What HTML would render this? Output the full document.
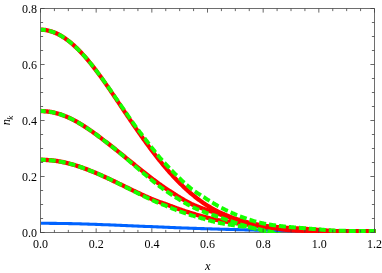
<!DOCTYPE html>
<html><head><meta charset="utf-8"><title>plot</title>
<style>
html,body{margin:0;padding:0;background:#fff;}
svg{display:block;}
</style></head><body>
<svg width="382" height="273" viewBox="0 0 382 273">
<rect width="382" height="273" fill="#fff"/>
<filter id="b" x="0" y="0" width="382" height="273" filterUnits="userSpaceOnUse"><feGaussianBlur stdDeviation="0.4"/></filter>
<clipPath id="c"><rect x="39" y="8" width="337" height="225"/></clipPath>
<g filter="url(#b)">
<rect width="382" height="273" fill="#fff"/>
<path d="M40.0,232.5 H375.0" fill="none" stroke="#6e6e6e" stroke-width="1"/>
<g clip-path="url(#c)"><g transform="translate(0,231.1) scale(1,1.1) translate(0,-231.1)">
<path d="M40.50,224.01 L42.42,224.01 L44.33,224.02 L46.25,224.03 L48.17,224.04 L50.08,224.05 L52.00,224.06 L53.92,224.08 L55.83,224.10 L57.75,224.12 L59.67,224.14 L61.58,224.16 L63.50,224.19 L65.42,224.21 L67.34,224.24 L69.25,224.27 L71.17,224.31 L73.09,224.35 L75.00,224.39 L76.92,224.44 L78.84,224.49 L80.75,224.54 L82.67,224.59 L84.59,224.64 L86.50,224.70 L88.42,224.75 L90.34,224.80 L92.25,224.86 L94.17,224.92 L96.09,224.98 L98.00,225.05 L99.92,225.12 L101.84,225.19 L103.75,225.25 L105.67,225.32 L107.59,225.39 L109.50,225.46 L111.42,225.53 L113.34,225.60 L115.26,225.67 L117.17,225.74 L119.09,225.82 L121.01,225.89 L122.92,225.96 L124.84,226.04 L126.76,226.11 L128.67,226.18 L130.59,226.26 L132.51,226.33 L134.42,226.40 L136.34,226.48 L138.26,226.55 L140.17,226.62 L142.09,226.69 L144.01,226.77 L145.92,226.84 L147.84,226.91 L149.76,226.98 L151.67,227.06 L153.59,227.13 L155.51,227.20 L157.42,227.28 L159.34,227.35 L161.26,227.42 L163.18,227.49 L165.09,227.57 L167.01,227.64 L168.93,227.72 L170.84,227.79 L172.76,227.87 L174.68,227.94 L176.59,228.02 L178.51,228.09 L180.43,228.16 L182.34,228.23 L184.26,228.29 L186.18,228.35 L188.09,228.42 L190.01,228.48 L191.93,228.54 L193.84,228.60 L195.76,228.65 L197.68,228.71 L199.59,228.77 L201.51,228.82 L203.43,228.88 L205.34,228.93 L207.26,228.99 L209.18,229.04 L211.09,229.10 L213.01,229.15 L214.93,229.20 L216.85,229.25 L218.76,229.31 L220.68,229.36 L222.60,229.41 L224.51,229.46 L226.43,229.51 L228.35,229.55 L230.26,229.60 L232.18,229.65 L234.10,229.70 L236.01,229.74 L237.93,229.79 L239.85,229.84 L241.76,229.88 L243.68,229.93 L245.60,229.97 L247.51,230.02 L249.43,230.06 L251.35,230.10 L253.26,230.14 L255.18,230.18 L257.10,230.21 L259.01,230.24 L260.93,230.28 L262.85,230.31 L264.77,230.34 L266.68,230.37 L268.60,230.40 L270.52,230.42 L272.43,230.45 L274.35,230.48 L276.27,230.50 L278.18,230.53 L280.10,230.56 L282.02,230.58 L283.93,230.61 L285.85,230.63 L287.77,230.66 L289.68,230.69 L291.60,230.71 L293.52,230.74 L295.43,230.76 L297.35,230.79 L299.27,230.81 L301.18,230.83 L303.10,230.85 L305.02,230.87 L306.93,230.89 L308.85,230.91 L310.77,230.92 L312.69,230.94 L314.60,230.95 L316.52,230.97 L318.44,230.98 L320.35,231.00 L322.27,231.01 L324.19,231.02 L326.10,231.03 L328.02,231.04 L329.94,231.05 L331.85,231.06 L333.77,231.07 L335.69,231.08 L337.60,231.09 L339.52,231.10 L341.44,231.11 L343.35,231.11 L345.27,231.12 L347.19,231.13 L349.10,231.13 L351.02,231.14 L352.94,231.14 L354.85,231.15 L356.77,231.16 L358.69,231.16 L360.61,231.17 L362.52,231.17 L364.44,231.17 L366.36,231.18 L368.27,231.18 L370.19,231.18 L372.11,231.19 L374.02,231.19 L375.70,231.19" fill="none" stroke="#0064ff" stroke-width="2.8"/>
<path d="M40.50,48.01 L41.46,48.02 L42.42,48.06 L43.38,48.12 L44.33,48.21 L45.29,48.32 L46.25,48.45 L47.21,48.61 L48.17,48.79 L49.13,49.00 L50.08,49.23 L51.04,49.49 L52.00,49.77 L52.96,50.07 L53.92,50.40 L54.88,50.75 L55.83,51.12 L56.79,51.52 L57.75,51.94 L58.71,52.38 L59.67,52.85 L60.63,53.34 L61.58,53.85 L62.54,54.38 L63.50,54.94 L64.46,55.52 L65.42,56.12 L66.38,56.74 L67.34,57.38 L68.29,58.04 L69.25,58.72 L70.21,59.42 L71.17,60.15 L72.13,60.89 L73.09,61.65 L74.04,62.43 L75.00,63.23 L75.96,64.05 L76.92,64.89 L77.88,65.74 L78.84,66.62 L79.79,67.51 L80.75,68.41 L81.71,69.34 L82.67,70.28 L83.63,71.23 L84.59,72.21 L85.54,73.19 L86.50,74.20 L87.46,75.22 L88.42,76.26 L89.38,77.31 L90.34,78.38 L91.30,79.46 L92.25,80.56 L93.21,81.67 L94.17,82.80 L95.13,83.94 L96.09,85.09 L97.05,86.25 L98.00,87.42 L98.96,88.61 L99.92,89.80 L100.88,91.00 L101.84,92.22 L102.80,93.44 L103.75,94.67 L104.71,95.90 L105.67,97.14 L106.63,98.39 L107.59,99.65 L108.55,100.91 L109.50,102.17 L110.46,103.44 L111.42,104.71 L112.38,105.99 L113.34,107.28 L114.30,108.57 L115.26,109.86 L116.21,111.16 L117.17,112.46 L118.13,113.76 L119.09,115.06 L120.05,116.37 L121.01,117.68 L121.96,118.98 L122.92,120.29 L123.88,121.60 L124.84,122.90 L125.80,124.21 L126.76,125.51 L127.71,126.81 L128.67,128.10 L129.63,129.39 L130.59,130.68 L131.55,131.97 L132.51,133.25 L133.46,134.52 L134.42,135.79 L135.38,137.05 L136.34,138.31 L137.30,139.56 L138.26,140.81 L139.22,142.05 L140.17,143.29 L141.13,144.53 L142.09,145.75 L143.05,146.98 L144.01,148.19 L144.97,149.40 L145.92,150.60 L146.88,151.80 L147.84,152.99 L148.80,154.17 L149.76,155.35 L150.72,156.51 L151.67,157.67 L152.63,158.82 L153.59,159.97 L154.55,161.10 L155.51,162.23 L156.47,163.34 L157.42,164.45 L158.38,165.55 L159.34,166.64 L160.30,167.72 L161.26,168.80 L162.22,169.86 L163.18,170.91 L164.13,171.95 L165.09,172.99 L166.05,174.01 L167.01,175.02 L167.97,176.03 L168.93,177.02 L169.88,178.00 L170.84,178.97 L171.80,179.93 L172.76,180.88 L173.72,181.82 L174.68,182.75 L175.63,183.67 L176.59,184.58 L177.55,185.48 L178.51,186.36 L179.47,187.24 L180.43,188.10 L181.38,188.95 L182.34,189.80 L183.30,190.63 L184.26,191.45 L185.22,192.26 L186.18,193.06 L187.14,193.85 L188.09,194.62 L189.05,195.39 L190.01,196.14 L190.97,196.89 L191.93,197.62 L192.89,198.34 L193.84,199.05 L194.80,199.76 L195.76,200.45 L196.72,201.13 L197.68,201.80 L198.64,202.45 L199.59,203.10 L200.55,203.74 L201.51,204.36 L202.47,204.98 L203.43,205.58 L204.39,206.17 L205.34,206.74 L206.30,207.31 L207.26,207.86 L208.22,208.40 L209.18,208.94 L210.14,209.46 L211.09,209.97 L212.05,210.47 L213.01,210.95 L213.97,211.43 L214.93,211.90 L215.89,212.36 L216.85,212.81 L217.80,213.25 L218.76,213.68 L219.72,214.10 L220.68,214.52 L221.64,214.92 L222.60,215.32 L223.55,215.70 L224.51,216.08 L225.47,216.45 L226.43,216.82 L227.39,217.18 L228.35,217.53 L229.30,217.87 L230.26,218.20 L231.22,218.53 L232.18,218.86 L233.14,219.17 L234.10,219.48 L235.05,219.79 L236.01,220.09 L236.97,220.38 L237.93,220.67 L238.89,220.95 L239.85,221.22 L240.81,221.49 L241.76,221.75 L242.72,222.01 L243.68,222.26 L244.64,222.50 L245.60,222.74 L246.56,222.98 L247.51,223.20 L248.47,223.42 L249.43,223.64 L250.39,223.85 L251.35,224.05 L252.31,224.25 L253.26,224.44 L254.22,224.63 L255.18,224.81 L256.14,224.99 L257.10,225.16 L258.06,225.33 L259.01,225.49 L259.97,225.64 L260.93,225.79 L261.89,225.93 L262.85,226.07 L263.81,226.20 L264.77,226.32 L265.72,226.44 L266.68,226.55 L267.64,226.65 L268.60,226.76 L269.56,226.85 L270.52,226.95 L271.47,227.03 L272.43,227.12 L273.39,227.20 L274.35,227.28 L275.31,227.36 L276.27,227.43 L277.22,227.50 L278.18,227.57 L279.14,227.64 L280.10,227.70 L281.06,227.77 L282.02,227.83 L282.97,227.90 L283.93,227.96 L284.89,228.03 L285.85,228.09 L286.81,228.15 L287.77,228.21 L288.73,228.26 L289.68,228.32 L290.64,228.37 L291.60,228.42 L292.56,228.47 L293.52,228.52 L294.48,228.57 L295.43,228.61 L296.39,228.66 L297.35,228.71 L298.31,228.76 L299.27,228.81 L300.23,228.85 L301.18,228.90 L302.14,228.95 L303.10,229.01 L304.06,229.06 L305.02,229.11 L305.98,229.17 L306.93,229.23 L307.89,229.29 L308.85,229.35 L309.81,229.41 L310.77,229.48 L311.73,229.54 L312.69,229.61 L313.64,229.68 L314.60,229.74 L315.56,229.81 L316.52,229.88 L317.48,229.94 L318.44,230.01 L319.39,230.07 L320.35,230.14 L321.31,230.20 L322.27,230.27 L323.23,230.34 L324.19,230.41 L325.14,230.48 L326.10,230.55 L327.06,230.62 L328.02,230.69 L328.98,230.76 L329.94,230.82 L330.89,230.89 L331.85,230.94 L332.81,231.00 L333.77,231.04 L334.73,231.08 L335.69,231.12 L336.65,231.15 L337.60,231.17 L338.56,231.19 L339.52,231.21 L340.48,231.23 L341.44,231.24 L342.40,231.26 L343.35,231.28 L344.31,231.29 L345.27,231.31 L346.23,231.32 L347.19,231.33 L348.15,231.35 L349.10,231.36 L350.06,231.37 L351.02,231.38 L351.98,231.39 L352.94,231.40 L353.90,231.41 L354.85,231.42 L355.81,231.43 L356.77,231.44 L357.73,231.45 L358.69,231.46 L359.65,231.47 L360.61,231.47 L361.56,231.48 L362.52,231.49 L363.48,231.50 L364.44,231.50 L365.40,231.51 L366.36,231.51 L367.31,231.52 L368.27,231.52 L369.23,231.53 L370.19,231.53 L371.15,231.53 L372.11,231.54 L373.06,231.54 L374.02,231.54 L374.98,231.55 L375.70,231.55" fill="none" stroke="#ff0000" stroke-width="4.0"/>
<path d="M40.50,121.98 L41.46,121.98 L42.42,122.01 L43.38,122.04 L44.33,122.09 L45.29,122.15 L46.25,122.23 L47.21,122.32 L48.17,122.43 L49.13,122.55 L50.08,122.68 L51.04,122.83 L52.00,122.99 L52.96,123.17 L53.92,123.36 L54.88,123.56 L55.83,123.78 L56.79,124.01 L57.75,124.25 L58.71,124.51 L59.67,124.77 L60.63,125.06 L61.58,125.35 L62.54,125.66 L63.50,125.98 L64.46,126.32 L65.42,126.67 L66.38,127.03 L67.34,127.40 L68.29,127.78 L69.25,128.18 L70.21,128.59 L71.17,129.01 L72.13,129.44 L73.09,129.88 L74.04,130.34 L75.00,130.80 L75.96,131.28 L76.92,131.76 L77.88,132.26 L78.84,132.77 L79.79,133.29 L80.75,133.82 L81.71,134.36 L82.67,134.90 L83.63,135.45 L84.59,136.01 L85.54,136.57 L86.50,137.15 L87.46,137.72 L88.42,138.31 L89.38,138.90 L90.34,139.50 L91.30,140.10 L92.25,140.71 L93.21,141.33 L94.17,141.95 L95.13,142.58 L96.09,143.22 L97.05,143.86 L98.00,144.50 L98.96,145.16 L99.92,145.81 L100.88,146.48 L101.84,147.14 L102.80,147.81 L103.75,148.48 L104.71,149.15 L105.67,149.82 L106.63,150.49 L107.59,151.16 L108.55,151.83 L109.50,152.51 L110.46,153.19 L111.42,153.87 L112.38,154.55 L113.34,155.23 L114.30,155.92 L115.26,156.61 L116.21,157.30 L117.17,157.99 L118.13,158.69 L119.09,159.39 L120.05,160.09 L121.01,160.80 L121.96,161.50 L122.92,162.21 L123.88,162.92 L124.84,163.62 L125.80,164.33 L126.76,165.04 L127.71,165.74 L128.67,166.45 L129.63,167.16 L130.59,167.86 L131.55,168.57 L132.51,169.27 L133.46,169.97 L134.42,170.67 L135.38,171.38 L136.34,172.08 L137.30,172.78 L138.26,173.47 L139.22,174.17 L140.17,174.86 L141.13,175.56 L142.09,176.25 L143.05,176.94 L144.01,177.63 L144.97,178.32 L145.92,179.00 L146.88,179.68 L147.84,180.36 L148.80,181.04 L149.76,181.72 L150.72,182.39 L151.67,183.06 L152.63,183.72 L153.59,184.38 L154.55,185.04 L155.51,185.69 L156.47,186.34 L157.42,186.98 L158.38,187.62 L159.34,188.25 L160.30,188.88 L161.26,189.50 L162.22,190.12 L163.18,190.73 L164.13,191.33 L165.09,191.93 L166.05,192.51 L167.01,193.09 L167.97,193.66 L168.93,194.23 L169.88,194.79 L170.84,195.35 L171.80,195.90 L172.76,196.46 L173.72,197.01 L174.68,197.57 L175.63,198.12 L176.59,198.68 L177.55,199.23 L178.51,199.77 L179.47,200.31 L180.43,200.85 L181.38,201.38 L182.34,201.90 L183.30,202.42 L184.26,202.93 L185.22,203.43 L186.18,203.92 L187.14,204.40 L188.09,204.87 L189.05,205.33 L190.01,205.78 L190.97,206.21 L191.93,206.64 L192.89,207.04 L193.84,207.44 L194.80,207.82 L195.76,208.19 L196.72,208.55 L197.68,208.90 L198.64,209.25 L199.59,209.58 L200.55,209.91 L201.51,210.24 L202.47,210.55 L203.43,210.87 L204.39,211.18 L205.34,211.48 L206.30,211.79 L207.26,212.09 L208.22,212.39 L209.18,212.68 L210.14,212.96 L211.09,213.21 L212.05,213.45 L213.01,213.69 L213.97,213.95 L214.93,214.23 L215.89,214.54 L216.85,214.85 L217.80,215.16 L218.76,215.47 L219.72,215.77 L220.68,216.08 L221.64,216.38 L222.60,216.67 L223.55,216.97 L224.51,217.26 L225.47,217.56 L226.43,217.85 L227.39,218.14 L228.35,218.42 L229.30,218.71 L230.26,218.99 L231.22,219.27 L232.18,219.55 L233.14,219.83 L234.10,220.11 L235.05,220.38 L236.01,220.65 L236.97,220.92 L237.93,221.19 L238.89,221.45 L239.85,221.71 L240.81,221.97 L241.76,222.22 L242.72,222.47 L243.68,222.71 L244.64,222.95 L245.60,223.18 L246.56,223.40 L247.51,223.62 L248.47,223.83 L249.43,224.04 L250.39,224.25 L251.35,224.45 L252.31,224.64 L253.26,224.83 L254.22,225.01 L255.18,225.19 L256.14,225.37 L257.10,225.54 L258.06,225.70 L259.01,225.87 L259.97,226.02 L260.93,226.18 L261.89,226.33 L262.85,226.47 L263.81,226.61 L264.77,226.75 L265.72,226.89 L266.68,227.02 L267.64,227.15 L268.60,227.27 L269.56,227.39 L270.52,227.51 L271.47,227.63 L272.43,227.74 L273.39,227.86 L274.35,227.98 L275.31,228.09 L276.27,228.21 L277.22,228.32 L278.18,228.43 L279.14,228.54 L280.10,228.64 L281.06,228.75 L282.02,228.85 L282.97,228.94 L283.93,229.04 L284.89,229.13 L285.85,229.22 L286.81,229.30 L287.77,229.38 L288.73,229.46 L289.68,229.54 L290.64,229.61 L291.60,229.68 L292.56,229.75 L293.52,229.81 L294.48,229.87 L295.43,229.92 L296.39,229.98 L297.35,230.03 L298.31,230.08 L299.27,230.12 L300.23,230.17 L301.18,230.21 L302.14,230.25 L303.10,230.28 L304.06,230.32 L305.02,230.36 L305.98,230.39 L306.93,230.43 L307.89,230.46 L308.85,230.50 L309.81,230.54 L310.77,230.57 L311.73,230.61 L312.69,230.65 L313.64,230.69 L314.60,230.72 L315.56,230.76 L316.52,230.80 L317.48,230.83 L318.44,230.87 L319.39,230.90 L320.35,230.94 L321.31,230.97 L322.27,231.00 L323.23,231.03 L324.19,231.06 L325.14,231.09 L326.10,231.12 L327.06,231.15 L328.02,231.17 L328.98,231.20 L329.94,231.22 L330.89,231.24 L331.85,231.25 L332.81,231.27 L333.77,231.28 L334.73,231.30 L335.69,231.30 L336.65,231.31 L337.60,231.32 L338.56,231.33 L339.52,231.34 L340.48,231.35 L341.44,231.35 L342.40,231.36 L343.35,231.37 L344.31,231.37 L345.27,231.38 L346.23,231.38 L347.19,231.39 L348.15,231.40 L349.10,231.40 L350.06,231.41 L351.02,231.41 L351.98,231.42 L352.94,231.42 L353.90,231.42 L354.85,231.43 L355.81,231.43 L356.77,231.44 L357.73,231.44 L358.69,231.44 L359.65,231.45 L360.61,231.45 L361.56,231.45 L362.52,231.46 L363.48,231.46 L364.44,231.46 L365.40,231.46 L366.36,231.47 L367.31,231.47 L368.27,231.47 L369.23,231.47 L370.19,231.48 L371.15,231.48 L372.11,231.48 L373.06,231.48 L374.02,231.48 L374.98,231.48 L375.70,231.48" fill="none" stroke="#ff0000" stroke-width="4.0"/>
<path d="M40.50,166.29 L41.46,166.29 L42.42,166.30 L43.38,166.32 L44.33,166.35 L45.29,166.38 L46.25,166.42 L47.21,166.47 L48.17,166.53 L49.13,166.60 L50.08,166.67 L51.04,166.75 L52.00,166.84 L52.96,166.93 L53.92,167.04 L54.88,167.15 L55.83,167.27 L56.79,167.39 L57.75,167.53 L58.71,167.67 L59.67,167.82 L60.63,167.98 L61.58,168.14 L62.54,168.31 L63.50,168.49 L64.46,168.68 L65.42,168.87 L66.38,169.07 L67.34,169.28 L68.29,169.50 L69.25,169.72 L70.21,169.95 L71.17,170.18 L72.13,170.43 L73.09,170.68 L74.04,170.93 L75.00,171.20 L75.96,171.47 L76.92,171.74 L77.88,172.03 L78.84,172.32 L79.79,172.61 L80.75,172.91 L81.71,173.22 L82.67,173.53 L83.63,173.85 L84.59,174.18 L85.54,174.50 L86.50,174.83 L87.46,175.17 L88.42,175.50 L89.38,175.85 L90.34,176.19 L91.30,176.54 L92.25,176.89 L93.21,177.25 L94.17,177.61 L95.13,177.97 L96.09,178.34 L97.05,178.71 L98.00,179.08 L98.96,179.45 L99.92,179.83 L100.88,180.22 L101.84,180.60 L102.80,180.99 L103.75,181.39 L104.71,181.78 L105.67,182.18 L106.63,182.58 L107.59,182.99 L108.55,183.40 L109.50,183.81 L110.46,184.22 L111.42,184.63 L112.38,185.05 L113.34,185.47 L114.30,185.88 L115.26,186.30 L116.21,186.72 L117.17,187.14 L118.13,187.57 L119.09,187.99 L120.05,188.41 L121.01,188.84 L121.96,189.26 L122.92,189.68 L123.88,190.11 L124.84,190.53 L125.80,190.95 L126.76,191.38 L127.71,191.80 L128.67,192.22 L129.63,192.64 L130.59,193.06 L131.55,193.48 L132.51,193.90 L133.46,194.32 L134.42,194.73 L135.38,195.15 L136.34,195.56 L137.30,195.97 L138.26,196.38 L139.22,196.79 L140.17,197.20 L141.13,197.60 L142.09,198.00 L143.05,198.40 L144.01,198.79 L144.97,199.19 L145.92,199.58 L146.88,199.96 L147.84,200.35 L148.80,200.73 L149.76,201.10 L150.72,201.48 L151.67,201.85 L152.63,202.22 L153.59,202.58 L154.55,202.94 L155.51,203.30 L156.47,203.65 L157.42,204.00 L158.38,204.34 L159.34,204.66 L160.30,204.96 L161.26,205.25 L162.22,205.53 L163.18,205.82 L164.13,206.11 L165.09,206.42 L166.05,206.73 L167.01,207.05 L167.97,207.38 L168.93,207.70 L169.88,208.03 L170.84,208.35 L171.80,208.68 L172.76,209.00 L173.72,209.33 L174.68,209.65 L175.63,209.98 L176.59,210.30 L177.55,210.61 L178.51,210.93 L179.47,211.24 L180.43,211.55 L181.38,211.86 L182.34,212.16 L183.30,212.45 L184.26,212.75 L185.22,213.04 L186.18,213.32 L187.14,213.60 L188.09,213.88 L189.05,214.16 L190.01,214.44 L190.97,214.71 L191.93,214.98 L192.89,215.24 L193.84,215.50 L194.80,215.76 L195.76,216.02 L196.72,216.28 L197.68,216.53 L198.64,216.78 L199.59,217.02 L200.55,217.27 L201.51,217.51 L202.47,217.75 L203.43,217.99 L204.39,218.22 L205.34,218.46 L206.30,218.69 L207.26,218.92 L208.22,219.14 L209.18,219.36 L210.14,219.58 L211.09,219.79 L212.05,220.00 L213.01,220.20 L213.97,220.40 L214.93,220.59 L215.89,220.78 L216.85,220.97 L217.80,221.15 L218.76,221.32 L219.72,221.49 L220.68,221.65 L221.64,221.80 L222.60,221.96 L223.55,222.10 L224.51,222.25 L225.47,222.39 L226.43,222.53 L227.39,222.66 L228.35,222.80 L229.30,222.93 L230.26,223.07 L231.22,223.20 L232.18,223.33 L233.14,223.46 L234.10,223.59 L235.05,223.72 L236.01,223.84 L236.97,223.96 L237.93,224.07 L238.89,224.18 L239.85,224.29 L240.81,224.39 L241.76,224.50 L242.72,224.60 L243.68,224.71 L244.64,224.81 L245.60,224.92 L246.56,225.03 L247.51,225.14 L248.47,225.26 L249.43,225.37 L250.39,225.49 L251.35,225.62 L252.31,225.74 L253.26,225.87 L254.22,226.01 L255.18,226.14 L256.14,226.28 L257.10,226.41 L258.06,226.54 L259.01,226.67 L259.97,226.79 L260.93,226.92 L261.89,227.04 L262.85,227.15 L263.81,227.27 L264.77,227.38 L265.72,227.49 L266.68,227.60 L267.64,227.71 L268.60,227.81 L269.56,227.91 L270.52,228.01 L271.47,228.11 L272.43,228.20 L273.39,228.31 L274.35,228.43 L275.31,228.55 L276.27,228.68 L277.22,228.82 L278.18,228.95 L279.14,229.08 L280.10,229.21 L281.06,229.34 L282.02,229.47 L282.97,229.58 L283.93,229.70 L284.89,229.80 L285.85,229.90 L286.81,229.99 L287.77,230.07 L288.73,230.14 L289.68,230.20 L290.64,230.26 L291.60,230.31 L292.56,230.36 L293.52,230.41 L294.48,230.45 L295.43,230.50 L296.39,230.54 L297.35,230.57 L298.31,230.61 L299.27,230.64 L300.23,230.67 L301.18,230.70 L302.14,230.73 L303.10,230.75 L304.06,230.78 L305.02,230.80 L305.98,230.81 L306.93,230.83 L307.89,230.85 L308.85,230.87 L309.81,230.89 L310.77,230.91 L311.73,230.93 L312.69,230.95 L313.64,230.98 L314.60,231.00 L315.56,231.02 L316.52,231.04 L317.48,231.07 L318.44,231.09 L319.39,231.11 L320.35,231.14 L321.31,231.16 L322.27,231.18 L323.23,231.21 L324.19,231.23 L325.14,231.25 L326.10,231.27 L327.06,231.29 L328.02,231.31 L328.98,231.32 L329.94,231.34 L330.89,231.35 L331.85,231.36 L332.81,231.37 L333.77,231.38 L334.73,231.39 L335.69,231.40 L336.65,231.40 L337.60,231.41 L338.56,231.41 L339.52,231.42 L340.48,231.42 L341.44,231.42 L342.40,231.43 L343.35,231.43 L344.31,231.44 L345.27,231.44 L346.23,231.44 L347.19,231.45 L348.15,231.45 L349.10,231.45 L350.06,231.46 L351.02,231.46 L351.98,231.46 L352.94,231.46 L353.90,231.47 L354.85,231.47 L355.81,231.47 L356.77,231.47 L357.73,231.48 L358.69,231.48 L359.65,231.48 L360.61,231.48 L361.56,231.48 L362.52,231.48 L363.48,231.49 L364.44,231.49 L365.40,231.49 L366.36,231.49 L367.31,231.49 L368.27,231.49 L369.23,231.49 L370.19,231.49 L371.15,231.50 L372.11,231.50 L373.06,231.50 L374.02,231.50 L374.98,231.50 L375.70,231.50" fill="none" stroke="#ff0000" stroke-width="4.0"/>
<path d="M40.50,48.01 L40.74,48.01 L41.46,48.02 L42.18,48.05 L42.90,48.09 L43.61,48.14 L44.33,48.21 L45.05,48.29 L45.77,48.38 L45.78,48.38 M48.74,48.91 L48.89,48.95 L49.60,49.11 L50.32,49.29 L51.04,49.49 L51.76,49.69 L52.48,49.92 L53.20,50.15 L53.92,50.40 L54.64,50.66 L55.36,50.93 L55.43,50.96 M58.19,52.14 L58.23,52.16 L58.95,52.50 L59.67,52.85 L60.39,53.21 L61.11,53.59 L61.82,53.98 L62.54,54.38 L63.26,54.80 L63.98,55.22 L64.38,55.46 M66.91,57.09 L67.10,57.21 L67.81,57.70 L68.53,58.21 L69.25,58.72 L69.97,59.25 L70.69,59.78 L71.41,60.33 L72.13,60.89 L72.58,61.25 M74.91,63.16 L75.00,63.23 L75.72,63.85 L76.44,64.47 L77.16,65.10 L77.88,65.74 L78.60,66.40 L79.32,67.06 L80.03,67.73 L80.16,67.85 M82.32,69.94 L82.43,70.04 L83.15,70.75 L83.87,71.48 L84.59,72.21 L85.31,72.94 L86.02,73.69 L86.74,74.45 L87.07,74.79 M89.01,76.88 L89.14,77.02 L89.86,77.81 L90.58,78.61 L91.30,79.41 L92.01,80.22 L92.73,81.04 L93.42,81.83 M95.29,84.01 L95.37,84.10 L96.09,84.95 L96.81,85.80 L97.52,86.66 L98.24,87.53 L98.96,88.40 L99.64,89.23 M101.53,91.55 L101.60,91.64 L102.32,92.54 L103.04,93.44 L103.75,94.35 L104.47,95.25 L105.19,96.17 L105.89,97.06 M107.75,99.45 L107.83,99.55 L108.55,100.48 L109.27,101.41 L109.98,102.35 L110.70,103.29 L111.42,104.23 L112.04,105.04 M113.87,107.44 L114.06,107.69 L114.78,108.64 L115.49,109.58 L116.21,110.53 L116.93,111.48 L117.65,112.43 L118.13,113.06 M119.95,115.47 L120.05,115.60 L120.77,116.55 L121.48,117.50 L122.20,118.45 L122.92,119.40 L123.64,120.35 L124.20,121.08 M126.02,123.47 L126.04,123.50 L126.76,124.44 L127.47,125.39 L128.19,126.33 L128.91,127.27 L129.63,128.21 L130.25,129.02 M132.07,131.37 L132.27,131.63 L132.99,132.56 L133.70,133.49 L134.42,134.41 L135.14,135.32 L135.86,136.21 L136.34,136.81 M138.22,139.08 L138.26,139.13 L138.98,139.98 L139.69,140.83 L140.41,141.68 L141.13,142.52 L141.85,143.36 L142.57,144.20 L142.69,144.34 M144.61,146.59 L144.73,146.73 L145.44,147.58 L146.16,148.44 L146.88,149.30 L147.60,150.16 L148.32,151.01 L149.04,151.87 L149.07,151.91 M151.01,154.20 L151.20,154.42 L151.91,155.26 L152.63,156.10 L153.35,156.94 L154.07,157.77 L154.79,158.59 L155.51,159.41 L155.58,159.49 M157.57,161.73 L157.66,161.84 L158.38,162.63 L159.10,163.42 L159.82,164.19 L160.54,164.96 L161.26,165.72 L161.98,166.47 L162.34,166.85 M164.45,168.97 L164.61,169.13 L165.33,169.84 L166.05,170.54 L166.77,171.23 L167.49,171.92 L168.21,172.60 L168.93,173.28 L169.50,173.82 M171.69,175.86 L171.80,175.96 L172.52,176.63 L173.24,177.30 L173.96,177.97 L174.68,178.63 L175.39,179.30 L176.11,179.96 L176.83,180.61 M179.06,182.61 L179.23,182.76 L179.95,183.39 L180.67,184.02 L181.38,184.64 L182.10,185.26 L182.82,185.87 L183.54,186.48 L184.26,187.07 L184.38,187.17 M186.71,189.06 L186.90,189.21 L187.61,189.77 L188.33,190.33 L189.05,190.88 L189.77,191.42 L190.49,191.95 L191.21,192.47 L191.93,192.98 L192.33,193.25 M194.83,194.92 L195.04,195.06 L195.76,195.51 L196.48,195.96 L197.20,196.40 L197.92,196.84 L198.64,197.27 L199.35,197.69 L200.07,198.12 L200.79,198.53 L200.83,198.56 M203.45,200.07 L203.67,200.19 L204.39,200.61 L205.11,201.02 L205.82,201.44 L206.54,201.86 L207.26,202.28 L207.98,202.70 L208.70,203.12 L209.42,203.53 L209.59,203.63 M212.26,205.14 L212.29,205.16 L213.01,205.56 L213.73,205.95 L214.45,206.34 L215.17,206.73 L215.89,207.11 L216.61,207.49 L217.32,207.86 L218.04,208.23 L218.57,208.50 M221.32,209.86 L221.40,209.90 L222.12,210.24 L222.84,210.58 L223.55,210.91 L224.27,211.24 L224.99,211.57 L225.71,211.89 L226.43,212.21 L227.15,212.53 L227.81,212.82 M230.60,214.01 L230.74,214.07 L231.46,214.37 L232.18,214.67 L232.90,214.96 L233.62,215.25 L234.34,215.53 L235.05,215.82 L235.77,216.10 L236.49,216.37 L237.14,216.61 M239.96,217.65 L240.09,217.69 L240.81,217.94 L241.52,218.19 L242.24,218.43 L242.96,218.67 L243.68,218.91 L244.40,219.14 L245.12,219.37 L245.84,219.60 L246.56,219.83 L246.61,219.85 M249.48,220.74 L249.67,220.79 L250.39,221.01 L251.11,221.22 L251.83,221.43 L252.55,221.63 L253.26,221.83 L253.98,222.03 L254.70,222.22 L255.42,222.41 L256.14,222.60 L256.23,222.62 M259.15,223.31 L259.25,223.33 L259.97,223.49 L260.69,223.64 L261.41,223.78 L262.13,223.92 L262.85,224.05 L263.57,224.18 L264.29,224.31 L265.00,224.43 L265.72,224.55 L266.03,224.61 M269.00,225.07 L269.08,225.08 L269.80,225.19 L270.52,225.29 L271.23,225.39 L271.95,225.49 L272.67,225.59 L273.39,225.68 L274.11,225.78 L274.83,225.87 L275.55,225.96 L275.94,226.00 M278.92,226.35 L279.14,226.38 L279.86,226.46 L280.58,226.54 L281.30,226.62 L282.02,226.69 L282.74,226.77 L283.45,226.84 L284.17,226.91 L284.89,226.98 L285.61,227.05 L285.88,227.08 M288.87,227.34 L288.96,227.35 L289.68,227.41 L290.40,227.47 L291.12,227.53 L291.84,227.59 L292.56,227.64 L293.28,227.70 L294.00,227.75 L294.72,227.81 L295.43,227.86 L295.85,227.89 M298.84,228.11 L299.03,228.12 L299.75,228.17 L300.47,228.22 L301.18,228.27 L301.90,228.32 L302.62,228.37 L303.34,228.42 L304.06,228.47 L304.78,228.52 L305.50,228.57 L305.82,228.60 M308.82,228.81 L308.85,228.82 L309.57,228.87 L310.29,228.92 L311.01,228.97 L311.73,229.03 L312.45,229.08 L313.16,229.13 L313.88,229.18 L314.60,229.24 L315.32,229.29 L315.80,229.32 M318.79,229.54 L318.91,229.55 L319.63,229.60 L320.35,229.65 L321.07,229.71 L321.79,229.77 L322.51,229.84 L323.23,229.90 L323.95,229.97 L324.67,230.03 L325.38,230.09 L325.77,230.12 M328.76,230.35 L328.98,230.36 L329.70,230.41 L330.42,230.44 L331.13,230.48 L331.85,230.51 L332.57,230.55 L333.29,230.58 L334.01,230.61 L334.73,230.65 L335.45,230.68 L335.75,230.69 M338.75,230.79 L338.80,230.79 L339.52,230.81 L340.24,230.83 L340.96,230.84 L341.68,230.85 L342.40,230.86 L343.11,230.87 L343.83,230.88 L344.55,230.88 L345.27,230.89 L345.75,230.90 M348.75,230.92 L348.86,230.92 L349.58,230.93 L350.30,230.93 L351.02,230.94 L351.74,230.94 L352.46,230.95 L353.18,230.95 L353.90,230.96 L354.62,230.96 L355.33,230.97 L355.75,230.97 M358.75,230.99 L358.93,230.99 L359.65,230.99 L360.37,230.99 L361.08,231.00 L361.80,231.00 L362.52,231.00 L363.24,231.01 L363.96,231.01 L364.68,231.01 L365.40,231.02 L365.75,231.02 M368.75,231.03 L368.75,231.03 L369.47,231.03 L370.19,231.03 L370.91,231.04 L371.63,231.04 L372.35,231.04 L373.06,231.04 L373.78,231.04 L374.50,231.05 L375.22,231.05 L375.70,231.05" fill="none" stroke="#14ff00" stroke-width="3.65"/>
<path d="M40.50,121.98 L40.74,121.98 L41.46,121.98 L42.18,122.00 L42.90,122.02 L43.61,122.05 L44.33,122.09 L45.05,122.14 L45.77,122.19 L45.79,122.19 M48.78,122.50 L48.89,122.52 L49.60,122.61 L50.32,122.72 L51.04,122.83 L51.76,122.95 L52.48,123.08 L53.20,123.21 L53.92,123.36 L54.64,123.51 L55.36,123.67 L55.67,123.74 M58.58,124.47 L58.71,124.51 L59.43,124.71 L60.15,124.91 L60.87,125.13 L61.58,125.35 L62.30,125.58 L63.02,125.82 L63.74,126.07 L64.46,126.32 L65.18,126.58 L65.25,126.61 M68.06,127.69 L68.29,127.78 L69.01,128.08 L69.73,128.38 L70.45,128.69 L71.17,129.01 L71.89,129.33 L72.61,129.66 L73.33,129.99 L74.04,130.34 L74.47,130.54 M77.16,131.89 L77.16,131.89 L77.88,132.26 L78.60,132.64 L79.32,133.03 L80.03,133.42 L80.75,133.82 L81.47,134.22 L82.19,134.63 L82.91,135.04 L83.31,135.27 M85.91,136.79 L86.02,136.86 L86.74,137.29 L87.46,137.72 L88.18,138.16 L88.90,138.60 L89.62,139.05 L90.34,139.50 L91.06,139.95 L91.77,140.41 L91.88,140.48 M94.41,142.11 L94.65,142.27 L95.37,142.74 L96.09,143.22 L96.81,143.70 L97.52,144.18 L98.24,144.67 L98.96,145.16 L99.68,145.65 L100.25,146.04 M102.72,147.76 L102.80,147.81 L103.51,148.31 L104.23,148.81 L104.95,149.31 L105.67,149.82 L106.39,150.32 L107.11,150.82 L107.83,151.33 L108.48,151.79 M110.94,153.53 L110.94,153.53 L111.66,154.04 L112.38,154.56 L113.10,155.08 L113.82,155.60 L114.54,156.13 L115.26,156.66 L115.97,157.20 L116.58,157.65 M118.96,159.45 L119.09,159.55 L119.81,160.10 L120.53,160.65 L121.25,161.21 L121.96,161.76 L122.68,162.32 L123.40,162.88 L124.12,163.45 L124.44,163.69 M126.77,165.52 L127.00,165.70 L127.71,166.26 L128.43,166.83 L129.15,167.39 L129.87,167.96 L130.59,168.52 L131.31,169.09 L132.03,169.65 L132.19,169.78 M134.51,171.60 L134.66,171.72 L135.38,172.28 L136.10,172.85 L136.82,173.41 L137.54,173.97 L138.26,174.53 L138.98,175.09 L139.69,175.64 L139.95,175.84 M142.29,177.64 L142.33,177.67 L143.05,178.22 L143.77,178.77 L144.49,179.32 L145.21,179.86 L145.92,180.40 L146.64,180.95 L147.36,181.49 L147.80,181.82 M150.17,183.61 L150.24,183.66 L150.96,184.20 L151.67,184.74 L152.39,185.28 L153.11,185.81 L153.83,186.34 L154.55,186.87 L155.27,187.39 L155.75,187.74 M158.17,189.47 L158.38,189.62 L159.10,190.13 L159.82,190.63 L160.54,191.12 L161.26,191.61 L161.98,192.09 L162.70,192.57 L163.41,193.04 L163.91,193.36 M166.43,194.93 L166.53,195.00 L167.25,195.43 L167.97,195.86 L168.69,196.29 L169.40,196.72 L170.12,197.14 L170.84,197.56 L171.56,197.98 L172.28,198.40 L172.40,198.47 M174.97,199.97 L175.16,200.08 L175.87,200.49 L176.59,200.91 L177.31,201.32 L178.03,201.74 L178.75,202.15 L179.47,202.56 L180.19,202.96 L180.91,203.36 L181.01,203.42 M183.63,204.85 L183.78,204.93 L184.50,205.32 L185.22,205.69 L185.94,206.07 L186.66,206.43 L187.37,206.80 L188.09,207.16 L188.81,207.51 L189.53,207.86 L189.87,208.03 M192.60,209.28 L192.65,209.30 L193.36,209.62 L194.08,209.92 L194.80,210.22 L195.52,210.52 L196.24,210.81 L196.96,211.09 L197.68,211.37 L198.40,211.65 L199.10,211.91 M201.92,212.95 L201.99,212.97 L202.71,213.23 L203.43,213.48 L204.15,213.73 L204.87,213.98 L205.58,214.22 L206.30,214.47 L207.02,214.71 L207.74,214.95 L208.46,215.19 L208.55,215.22 M211.43,216.07 L211.57,216.11 L212.29,216.30 L213.01,216.50 L213.73,216.70 L214.45,216.91 L215.17,217.14 L215.89,217.38 L216.61,217.62 L217.32,217.86 L218.04,218.10 L218.13,218.13 M220.99,219.05 L221.16,219.11 L221.88,219.34 L222.60,219.57 L223.31,219.80 L224.03,220.02 L224.75,220.25 L225.47,220.47 L226.19,220.70 L226.91,220.92 L227.63,221.14 L227.67,221.15 M230.54,222.03 L230.74,222.09 L231.46,222.31 L232.18,222.53 L232.90,222.75 L233.62,222.96 L234.34,223.18 L235.05,223.40 L235.77,223.61 L236.49,223.83 L237.21,224.04 L237.25,224.06 M240.13,224.92 L240.33,224.97 L241.04,225.19 L241.76,225.40 L242.48,225.60 L243.20,225.81 L243.92,226.01 L244.64,226.21 L245.36,226.41 L246.08,226.60 L246.80,226.80 L246.88,226.82 M249.78,227.57 L249.91,227.60 L250.63,227.79 L251.35,227.96 L252.07,228.14 L252.79,228.31 L253.50,228.49 L254.22,228.66 L254.94,228.84 L255.66,229.01 L256.38,229.18 L256.59,229.23 M259.51,229.93 L259.73,229.99 L260.45,230.16 L261.17,230.33 L261.89,230.50 L262.61,230.67 L263.33,230.85 L264.05,231.03 L264.77,231.21 L265.48,231.39 L266.20,231.58 L266.31,231.60 M269.22,232.34 L269.32,232.37 L270.04,232.54 L270.76,232.72 L271.47,232.89 L272.19,233.07 L272.91,233.24 L273.63,233.41 L274.35,233.59 L275.07,233.76 L275.79,233.94 L276.03,234.00 M278.94,234.72 L279.14,234.77 L279.86,234.96 L280.58,235.15 L281.30,235.34 L282.02,235.53 L282.74,235.73 L283.45,235.93 L284.17,236.14 L284.89,236.34 L285.61,236.54 L285.70,236.57 M288.59,237.37 L288.73,237.41 L289.44,237.60 L290.16,237.79 L290.88,237.98 L291.60,238.19 L292.32,238.41 L293.04,238.63 L293.76,238.85 L294.48,239.06 L295.19,239.27 L295.33,239.31 M298.25,239.97 L298.31,239.98 L299.03,240.08 L299.75,240.14 L300.47,240.18 L301.18,240.21 L301.90,240.24 L302.62,240.27 L303.34,240.29 L304.06,240.32 L304.78,240.35 L305.24,240.36 M308.23,240.48 L308.37,240.48 L309.09,240.51 L309.81,240.54 L310.53,240.56 L311.25,240.59 L311.97,240.62 L312.69,240.65 L313.40,240.68 L314.12,240.70 L314.84,240.73 L315.23,240.75 M318.23,240.86 L318.44,240.87 L319.15,240.89 L319.87,240.92 L320.59,240.94 L321.31,240.97 L322.03,240.99 L322.75,241.02 L323.47,241.04 L324.19,241.06 L324.90,241.09 L325.22,241.10 M328.22,241.18 L328.26,241.18 L328.98,241.20 L329.70,241.21 L330.42,241.23 L331.13,241.24 L331.85,241.25 L332.57,241.27 L333.29,241.28 L334.01,241.29 L334.73,241.30 L335.22,241.30 M338.22,241.33 L338.32,241.33 L339.04,241.33 L339.76,241.34 L340.48,241.35 L341.20,241.35 L341.92,241.36 L342.64,241.36 L343.35,241.37 L344.07,241.37 L344.79,241.38 L345.22,241.38 M348.22,241.40 L348.39,241.40 L349.10,241.40 L349.82,241.40 L350.54,241.41 L351.26,241.41 L351.98,241.42 L352.70,241.42 L353.42,241.42 L354.14,241.43 L354.85,241.43 L355.22,241.43 M358.22,241.44 L358.45,241.44 L359.17,241.45 L359.89,241.45 L360.61,241.45 L361.32,241.45 L362.04,241.45 L362.76,241.46 L363.48,241.46 L364.20,241.46 L364.92,241.46 L365.22,241.46 M368.22,241.47 L368.27,241.47 L368.99,241.47 L369.71,241.47 L370.43,241.48 L371.15,241.48 L371.87,241.48 L372.59,241.48 L373.30,241.48 L374.02,241.48 L374.74,241.48 L375.22,241.48" fill="none" stroke="#14ff00" stroke-width="3.65"/>
<path d="M40.50,166.29 L40.74,166.29 L41.46,166.29 L42.18,166.30 L42.90,166.31 L43.61,166.33 L44.33,166.35 L45.05,166.37 L45.77,166.40 L45.80,166.40 M48.79,166.57 L48.89,166.58 L49.60,166.63 L50.32,166.69 L51.04,166.75 L51.76,166.82 L52.48,166.89 L53.20,166.96 L53.92,167.04 L54.64,167.12 L55.36,167.21 L55.76,167.26 M58.73,167.67 L58.95,167.71 L59.67,167.82 L60.39,167.94 L61.11,168.06 L61.82,168.18 L62.54,168.31 L63.26,168.45 L63.98,168.58 L64.70,168.73 L65.42,168.87 L65.62,168.91 M68.56,169.56 L68.77,169.61 L69.49,169.77 L70.21,169.95 L70.93,170.12 L71.65,170.30 L72.37,170.49 L73.09,170.68 L73.80,170.87 L74.52,171.06 L75.24,171.26 L75.34,171.29 M78.23,172.13 L78.36,172.17 L79.08,172.39 L79.79,172.61 L80.51,172.84 L81.23,173.07 L81.95,173.30 L82.67,173.53 L83.39,173.77 L84.11,174.01 L84.83,174.26 L84.90,174.28 M87.74,175.26 L87.94,175.34 L88.66,175.59 L89.38,175.85 L90.10,176.10 L90.82,176.36 L91.53,176.63 L92.25,176.89 L92.97,177.16 L93.69,177.43 L94.32,177.66 M97.13,178.74 L97.29,178.80 L98.00,179.08 L98.72,179.36 L99.44,179.64 L100.16,179.93 L100.88,180.22 L101.60,180.51 L102.32,180.80 L103.04,181.09 L103.64,181.34 M106.42,182.50 L106.63,182.58 L107.35,182.89 L108.07,183.19 L108.79,183.50 L109.50,183.81 L110.22,184.12 L110.94,184.43 L111.66,184.74 L112.38,185.05 L112.86,185.27 M115.61,186.49 L115.73,186.54 L116.45,186.87 L117.17,187.19 L117.89,187.52 L118.61,187.85 L119.33,188.17 L120.05,188.50 L120.77,188.83 L121.48,189.16 L121.99,189.40 M124.72,190.66 L124.84,190.71 L125.56,191.05 L126.28,191.38 L127.00,191.71 L127.71,192.05 L128.43,192.38 L129.15,192.72 L129.87,193.05 L130.59,193.38 L131.09,193.61 M133.82,194.88 L133.94,194.93 L134.66,195.27 L135.38,195.60 L136.10,195.93 L136.82,196.25 L137.54,196.58 L138.26,196.91 L138.98,197.23 L139.69,197.56 L140.20,197.79 M142.94,199.00 L143.05,199.05 L143.77,199.37 L144.49,199.68 L145.21,199.99 L145.92,200.30 L146.64,200.61 L147.36,200.92 L148.08,201.22 L148.80,201.53 L149.31,201.75 M152.02,202.89 L152.15,202.95 L152.87,203.25 L153.59,203.54 L154.31,203.84 L155.03,204.14 L155.75,204.43 L156.47,204.72 L157.19,205.01 L157.90,205.30 L158.37,205.49 M161.12,206.47 L161.26,206.52 L161.98,206.76 L162.70,207.00 L163.41,207.24 L164.13,207.49 L164.85,207.75 L165.57,208.01 L166.29,208.28 L167.01,208.55 L167.55,208.75 M170.29,209.78 L170.36,209.81 L171.08,210.08 L171.80,210.34 L172.52,210.61 L173.24,210.88 L173.96,211.14 L174.68,211.41 L175.39,211.67 L176.11,211.93 L176.71,212.14 M179.49,213.11 L179.71,213.18 L180.43,213.43 L181.15,213.66 L181.86,213.90 L182.58,214.13 L183.30,214.36 L184.02,214.58 L184.74,214.80 L185.46,215.02 L186.07,215.20 M188.94,216.04 L189.05,216.07 L189.77,216.28 L190.49,216.48 L191.21,216.68 L191.93,216.88 L192.65,217.08 L193.36,217.28 L194.08,217.48 L194.80,217.67 L195.52,217.87 L195.69,217.91 M198.60,218.67 L198.64,218.69 L199.35,218.87 L200.07,219.05 L200.79,219.24 L201.51,219.42 L202.23,219.61 L202.95,219.80 L203.67,219.98 L204.39,220.17 L205.11,220.36 L205.38,220.43 M208.29,221.18 L208.46,221.22 L209.18,221.41 L209.90,221.59 L210.62,221.76 L211.33,221.94 L212.05,222.11 L212.77,222.28 L213.49,222.45 L214.21,222.62 L214.93,222.78 L215.10,222.82 M218.03,223.43 L218.04,223.43 L218.76,223.57 L219.48,223.71 L220.20,223.83 L220.92,223.96 L221.64,224.08 L222.36,224.19 L223.07,224.30 L223.79,224.41 L224.51,224.52 L224.94,224.58 M227.91,225.01 L228.11,225.04 L228.83,225.14 L229.54,225.24 L230.26,225.34 L230.98,225.44 L231.70,225.54 L232.42,225.64 L233.14,225.74 L233.86,225.83 L234.58,225.93 L234.85,225.97 M237.83,226.33 L237.93,226.34 L238.65,226.43 L239.37,226.51 L240.09,226.59 L240.81,226.66 L241.52,226.74 L242.24,226.82 L242.96,226.90 L243.68,226.98 L244.40,227.06 L244.78,227.11 M247.76,227.48 L247.99,227.51 L248.71,227.60 L249.43,227.70 L250.15,227.80 L250.87,227.90 L251.59,228.01 L252.31,228.11 L253.02,228.23 L253.74,228.36 L254.46,228.49 L254.68,228.53 M257.62,229.14 L257.82,229.18 L258.54,229.33 L259.25,229.48 L259.97,229.63 L260.69,229.77 L261.41,229.91 L262.13,230.05 L262.85,230.19 L263.57,230.33 L264.29,230.47 L264.49,230.51 M267.44,231.08 L267.64,231.12 L268.36,231.26 L269.08,231.41 L269.80,231.55 L270.52,231.70 L271.23,231.85 L271.95,232.00 L272.67,232.16 L273.39,232.33 L274.11,232.51 L274.28,232.56 M277.18,233.35 L277.22,233.37 L277.94,233.58 L278.66,233.79 L279.38,234.01 L280.10,234.23 L280.82,234.46 L281.54,234.69 L282.26,234.92 L282.97,235.16 L283.69,235.41 L283.86,235.46 M286.70,236.43 L286.81,236.46 L287.53,236.70 L288.25,236.94 L288.96,237.17 L289.68,237.40 L290.40,237.62 L291.12,237.87 L291.84,238.14 L292.56,238.43 L293.28,238.72 L293.32,238.74 M296.12,239.84 L296.15,239.85 L296.87,240.09 L297.59,240.29 L298.31,240.46 L299.03,240.58 L299.75,240.66 L300.47,240.68 L301.18,240.70 L301.90,240.72 L302.62,240.74 L303.01,240.75 M306.01,240.82 L306.22,240.82 L306.93,240.83 L307.65,240.85 L308.37,240.86 L309.09,240.88 L309.81,240.89 L310.53,240.91 L311.25,240.92 L311.97,240.94 L312.69,240.95 L313.01,240.96 M316.01,241.03 L316.04,241.03 L316.76,241.05 L317.48,241.07 L318.20,241.09 L318.91,241.10 L319.63,241.12 L320.35,241.14 L321.07,241.16 L321.79,241.17 L322.51,241.19 L323.01,241.20 M326.01,241.27 L326.10,241.27 L326.82,241.28 L327.54,241.30 L328.26,241.31 L328.98,241.32 L329.70,241.33 L330.42,241.35 L331.13,241.36 L331.85,241.36 L332.57,241.37 L333.01,241.38 M336.01,241.40 L336.17,241.40 L336.88,241.40 L337.60,241.41 L338.32,241.41 L339.04,241.41 L339.76,241.42 L340.48,241.42 L341.20,241.42 L341.92,241.43 L342.64,241.43 L343.01,241.43 M346.01,241.44 L346.23,241.44 L346.95,241.45 L347.67,241.45 L348.39,241.45 L349.10,241.45 L349.82,241.45 L350.54,241.46 L351.26,241.46 L351.98,241.46 L352.70,241.46 L353.01,241.46 M356.01,241.47 L356.05,241.47 L356.77,241.47 L357.49,241.47 L358.21,241.48 L358.93,241.48 L359.65,241.48 L360.37,241.48 L361.08,241.48 L361.80,241.48 L362.52,241.48 L363.01,241.49 M366.01,241.49 L366.12,241.49 L366.83,241.49 L367.55,241.49 L368.27,241.49 L368.99,241.49 L369.71,241.49 L370.43,241.50 L371.15,241.50 L371.87,241.50 L372.59,241.50 L373.01,241.50" fill="none" stroke="#14ff00" stroke-width="3.65"/>
</g></g>
<path d="M40.5,233.0 V8.5 H374.5 V233.0" fill="none" stroke="#6e6e6e" stroke-width="1"/>
<path d="M40.50,232.5 v-4.1 M40.50,8.5 v4.1 M54.42,232.5 v-2.6 M54.42,8.5 v2.6 M68.33,232.5 v-2.6 M68.33,8.5 v2.6 M82.25,232.5 v-2.6 M82.25,8.5 v2.6 M96.17,232.5 v-4.1 M96.17,8.5 v4.1 M110.08,232.5 v-2.6 M110.08,8.5 v2.6 M124.00,232.5 v-2.6 M124.00,8.5 v2.6 M137.92,232.5 v-2.6 M137.92,8.5 v2.6 M151.83,232.5 v-4.1 M151.83,8.5 v4.1 M165.75,232.5 v-2.6 M165.75,8.5 v2.6 M179.67,232.5 v-2.6 M179.67,8.5 v2.6 M193.58,232.5 v-2.6 M193.58,8.5 v2.6 M207.50,232.5 v-4.1 M207.50,8.5 v4.1 M221.42,232.5 v-2.6 M221.42,8.5 v2.6 M235.33,232.5 v-2.6 M235.33,8.5 v2.6 M249.25,232.5 v-2.6 M249.25,8.5 v2.6 M263.17,232.5 v-4.1 M263.17,8.5 v4.1 M277.08,232.5 v-2.6 M277.08,8.5 v2.6 M291.00,232.5 v-2.6 M291.00,8.5 v2.6 M304.92,232.5 v-2.6 M304.92,8.5 v2.6 M318.83,232.5 v-4.1 M318.83,8.5 v4.1 M332.75,232.5 v-2.6 M332.75,8.5 v2.6 M346.67,232.5 v-2.6 M346.67,8.5 v2.6 M360.58,232.5 v-2.6 M360.58,8.5 v2.6 M374.50,232.5 v-4.1 M374.50,8.5 v4.1 M40.5,232.50 h4.1 M374.5,232.50 h-4.1 M40.5,218.50 h2.6 M374.5,218.50 h-2.6 M40.5,204.50 h2.6 M374.5,204.50 h-2.6 M40.5,190.50 h2.6 M374.5,190.50 h-2.6 M40.5,176.50 h4.1 M374.5,176.50 h-4.1 M40.5,162.50 h2.6 M374.5,162.50 h-2.6 M40.5,148.50 h2.6 M374.5,148.50 h-2.6 M40.5,134.50 h2.6 M374.5,134.50 h-2.6 M40.5,120.50 h4.1 M374.5,120.50 h-4.1 M40.5,106.50 h2.6 M374.5,106.50 h-2.6 M40.5,92.50 h2.6 M374.5,92.50 h-2.6 M40.5,78.50 h2.6 M374.5,78.50 h-2.6 M40.5,64.50 h4.1 M374.5,64.50 h-4.1 M40.5,50.50 h2.6 M374.5,50.50 h-2.6 M40.5,36.50 h2.6 M374.5,36.50 h-2.6 M40.5,22.50 h2.6 M374.5,22.50 h-2.6 M40.5,8.50 h4.1 M374.5,8.50 h-4.1" fill="none" stroke="#404040" stroke-width="0.8"/>
<g font-family="'Liberation Serif', serif" font-size="12" fill="#000">
<g text-anchor="middle">
<text x="40.6" y="248.1">0.0</text>
<text x="96.2" y="248.1">0.2</text>
<text x="152" y="248.1">0.4</text>
<text x="207.6" y="248.1">0.6</text>
<text x="263.3" y="248.1">0.8</text>
<text x="319.2" y="248.1">1.0</text>
<text x="374.4" y="248.1">1.2</text>
</g>
<g text-anchor="end">
<text x="37" y="237">0.0</text>
<text x="37" y="181">0.2</text>
<text x="37" y="125">0.4</text>
<text x="37" y="69">0.6</text>
<text x="37" y="13">0.8</text>
</g>
<text x="207.8" y="270" text-anchor="middle" font-style="italic" font-size="12.5">x</text>
<text transform="translate(10,125.2) rotate(-90)" font-style="italic" font-size="12.5">n</text>
<text transform="translate(13,119.8) rotate(-90)" font-style="italic" font-size="9">k</text>
</g>
</g>
</svg>
</body></html>
